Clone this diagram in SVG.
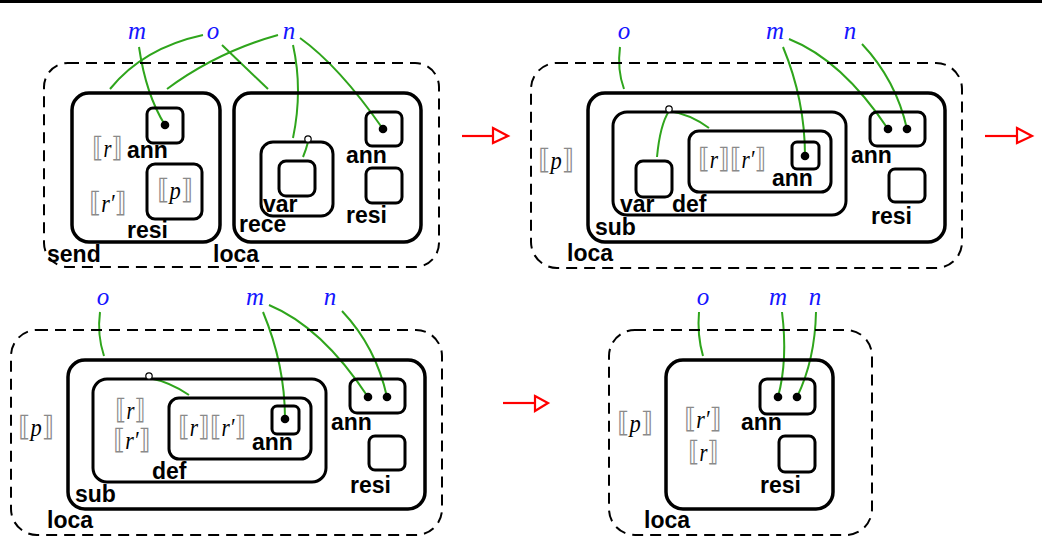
<svg xmlns="http://www.w3.org/2000/svg" width="1042" height="545" viewBox="0 0 1042 545">
<style>
.dash{fill:none;stroke:#000;stroke-width:2;stroke-dasharray:11 7}
.box{fill:none;stroke:#000;stroke-width:3.5}
.sbox{fill:none;stroke:#000;stroke-width:3}
.lbl{font-family:"Liberation Sans",Arial,sans-serif;font-weight:bold;font-size:23px;fill:#000}
.nm{font-family:"Liberation Serif","Times New Roman",serif;font-style:italic;font-size:25px;fill:#1515ff}
.br{font-family:"Liberation Serif","DejaVu Serif",serif;font-size:25px;fill:#000}
.bk{font-family:"DejaVu Sans",sans-serif;font-style:normal;fill:#8a8a8a;font-size:28px}
.it{font-style:italic}
.w{fill:none;stroke:#2fa51c;stroke-width:2}
.dot{fill:#000}
.port{fill:#fff;stroke:#000;stroke-width:1.2}
.arr{fill:none;stroke:#f00;stroke-width:2.2}
.arrh{fill:#fff;stroke:#f00;stroke-width:2.2}
</style>
<rect x="0" y="0" width="1042" height="3" fill="#000"/>

<!-- Connectors -->
<g id="connectors">
<path class="w" d="M139,47 Q146,95 165,125"/>
<path class="w" d="M203,35 Q143,48 110,89"/>
<path class="w" d="M222,45 Q246,68 268,89"/>
<path class="w" d="M278,35 Q217,52 167,89"/>
<path class="w" d="M293,45 Q303,90 293,138"/>
<path class="w" d="M300,38 Q339,66 383,129"/>
<path class="w" d="M308,142 Q306,150 303,157"/>

<path class="w" d="M620,47 Q617,70 624,89"/>
<path class="w" d="M783,47 Q805,100 805,156"/>
<path class="w" d="M789,39 Q842,60 888,129"/>
<path class="w" d="M862,44 Q896,80 907,129"/>
<path class="w" d="M669,111 Q660,125 657,157"/>
<path class="w" d="M669,111 Q690,114 709,128"/>

<path class="w" d="M100,312 Q97,335 104,356"/>
<path class="w" d="M263,312 Q285,365 285,419"/>
<path class="w" d="M269,305 Q322,327 368,397"/>
<path class="w" d="M342,311 Q376,347 387,397"/>
<path class="w" d="M149,378 Q170,382 189,395"/>

<path class="w" d="M699,312 Q697,335 703,356"/>
<path class="w" d="M782,312 Q788,360 778,397"/>
<path class="w" d="M816,312 Q815,360 797,397"/>

<path class="arr" d="M462,136 H493"/><path class="arrh" d="M493,128 L508,136 L493,143 Z"/>
<path class="arr" d="M985,136 H1017"/><path class="arrh" d="M1017,128 L1032,136 L1017,143 Z"/>
<path class="arr" d="M503,403 H535"/><path class="arrh" d="M535,396 L548,403 L535,411 Z"/>
</g>

<!-- Panel 1 -->
<g id="p1-loca-outer"><rect class="dash" x="44" y="63" width="395" height="204" rx="24"/><text class="lbl" x="213" y="262">loca</text></g>
<g id="p1-send"><rect class="box" x="72" y="93" width="148" height="149" rx="17"/><text class="lbl" x="47" y="262">send</text>
<text class="br" transform="translate(92,157) scale(0.82,1)"><tspan class="bk">⟦</tspan><tspan class="it">r</tspan><tspan class="bk">⟧</tspan></text>
<text class="br" transform="translate(89,212) scale(0.88,1)"><tspan class="bk">⟦</tspan><tspan class="it">r′</tspan><tspan class="bk">⟧</tspan></text></g>
<g id="p1-send-ann"><rect class="sbox" x="147" y="108" width="36" height="35" rx="6"/><circle class="dot" cx="165" cy="125" r="4.3"/><text class="lbl" x="127" y="158">ann</text></g>
<g id="p1-send-resi"><rect class="sbox" x="147" y="164" width="55" height="55" rx="8"/><text class="br" transform="translate(157,199) scale(0.9,1)"><tspan class="bk">⟦</tspan><tspan class="it">p</tspan><tspan class="bk">⟧</tspan></text><text class="lbl" x="127" y="238">resi</text></g>
<g id="p1-loca"><rect class="box" x="234" y="93" width="187" height="149" rx="17"/></g>
<g id="p1-rece"><rect class="sbox" x="261" y="142" width="72" height="74" rx="12"/><circle class="port" cx="308" cy="139" r="3.2"/><text class="lbl" x="239" y="232">rece</text></g>
<g id="p1-var"><rect class="sbox" x="279" y="161" width="36" height="35" rx="7"/><text class="lbl" x="263" y="212">var</text></g>
<g id="p1-loca-ann"><rect class="sbox" x="366" y="112" width="36" height="34" rx="6"/><circle class="dot" cx="383" cy="129" r="4.3"/><text class="lbl" x="346" y="163">ann</text></g>
<g id="p1-loca-resi"><rect class="sbox" x="366" y="168" width="36" height="35" rx="6"/><text class="lbl" x="346" y="223">resi</text></g>
<g id="p1-names"><text class="nm" x="137" y="39" text-anchor="middle">m</text><text class="nm" x="213" y="39" text-anchor="middle">o</text><text class="nm" x="289" y="39" text-anchor="middle">n</text></g>

<!-- Panel 2 -->
<g id="p2-loca"><rect class="dash" x="531" y="63" width="431" height="205" rx="26"/><text class="lbl" x="567" y="261">loca</text>
<text class="br" transform="translate(538,169) scale(0.9,1)"><tspan class="bk">⟦</tspan><tspan class="it">p</tspan><tspan class="bk">⟧</tspan></text></g>
<g id="p2-sub"><rect class="box" x="588" y="93" width="357" height="149" rx="17"/><text class="lbl" x="595" y="235">sub</text></g>
<g id="p2-def"><rect class="sbox" x="613" y="112" width="233" height="103" rx="14"/><circle class="port" cx="669" cy="109" r="3.2"/><text class="lbl" x="672" y="212">def</text></g>
<g id="p2-var"><rect class="sbox" x="636" y="161" width="36" height="36" rx="7"/><text class="lbl" x="620" y="212">var</text></g>
<g id="p2-inner"><rect class="sbox" x="689" y="131" width="142" height="61" rx="10"/><text class="br" transform="translate(698,168) scale(0.85,1)"><tspan class="bk">⟦</tspan><tspan class="it">r</tspan><tspan class="bk">⟧⟦</tspan><tspan class="it">r′</tspan><tspan class="bk">⟧</tspan></text></g>
<g id="p2-inner-ann"><rect class="sbox" x="792" y="142" width="27" height="27" rx="5"/><circle class="dot" cx="805" cy="156" r="4.3"/><text class="lbl" x="772" y="186">ann</text></g>
<g id="p2-ann"><rect class="sbox" x="870" y="112" width="55" height="34" rx="7"/><circle class="dot" cx="888" cy="129" r="4.3"/><circle class="dot" cx="907" cy="129" r="4.3"/><text class="lbl" x="851" y="163">ann</text></g>
<g id="p2-resi"><rect class="sbox" x="889" y="169" width="36" height="33" rx="6"/><text class="lbl" x="871" y="224">resi</text></g>
<g id="p2-names"><text class="nm" x="624" y="39" text-anchor="middle">o</text><text class="nm" x="775" y="39" text-anchor="middle">m</text><text class="nm" x="850" y="39" text-anchor="middle">n</text></g>

<!-- Panel 3 -->
<g id="p3-loca"><rect class="dash" x="11" y="330" width="431" height="205" rx="26"/><text class="lbl" x="47" y="528">loca</text>
<text class="br" transform="translate(18,436) scale(0.9,1)"><tspan class="bk">⟦</tspan><tspan class="it">p</tspan><tspan class="bk">⟧</tspan></text></g>
<g id="p3-sub"><rect class="box" x="68" y="360" width="357" height="149" rx="17"/><text class="lbl" x="75" y="502">sub</text></g>
<g id="p3-def"><rect class="sbox" x="93" y="379" width="233" height="103" rx="14"/><circle class="port" cx="149" cy="376" r="3.2"/><text class="lbl" x="152" y="479">def</text>
<text class="br" transform="translate(115,419) scale(0.82,1)"><tspan class="bk">⟦</tspan><tspan class="it">r</tspan><tspan class="bk">⟧</tspan></text>
<text class="br" transform="translate(113,449) scale(0.88,1)"><tspan class="bk">⟦</tspan><tspan class="it">r′</tspan><tspan class="bk">⟧</tspan></text></g>
<g id="p3-inner"><rect class="sbox" x="169" y="398" width="142" height="61" rx="10"/><text class="br" transform="translate(178,436) scale(0.85,1)"><tspan class="bk">⟦</tspan><tspan class="it">r</tspan><tspan class="bk">⟧⟦</tspan><tspan class="it">r′</tspan><tspan class="bk">⟧</tspan></text></g>
<g id="p3-inner-ann"><rect class="sbox" x="272" y="406" width="27" height="28" rx="5"/><circle class="dot" cx="285" cy="419" r="4.3"/><text class="lbl" x="252" y="450">ann</text></g>
<g id="p3-ann"><rect class="sbox" x="350" y="379" width="55" height="34" rx="7"/><circle class="dot" cx="368" cy="397" r="4.3"/><circle class="dot" cx="387" cy="397" r="4.3"/><text class="lbl" x="331" y="430">ann</text></g>
<g id="p3-resi"><rect class="sbox" x="369" y="436" width="36" height="34" rx="6"/><text class="lbl" x="350" y="493">resi</text></g>
<g id="p3-names"><text class="nm" x="103" y="305" text-anchor="middle">o</text><text class="nm" x="255" y="305" text-anchor="middle">m</text><text class="nm" x="330" y="305" text-anchor="middle">n</text></g>

<!-- Panel 4 -->
<g id="p4-outer"><rect class="dash" x="609" y="330" width="263" height="205" rx="26"/><text class="br" transform="translate(617,432) scale(0.9,1)"><tspan class="bk">⟦</tspan><tspan class="it">p</tspan><tspan class="bk">⟧</tspan></text></g>
<g id="p4-loca"><rect class="box" x="666" y="360" width="167" height="149" rx="17"/><text class="lbl" x="644" y="528">loca</text>
<text class="br" transform="translate(684,428) scale(0.88,1)"><tspan class="bk">⟦</tspan><tspan class="it">r′</tspan><tspan class="bk">⟧</tspan></text>
<text class="br" transform="translate(688,461) scale(0.82,1)"><tspan class="bk">⟦</tspan><tspan class="it">r</tspan><tspan class="bk">⟧</tspan></text></g>
<g id="p4-ann"><rect class="sbox" x="760" y="379" width="55" height="35" rx="7"/><circle class="dot" cx="778" cy="397" r="4.3"/><circle class="dot" cx="797" cy="397" r="4.3"/><text class="lbl" x="741" y="430">ann</text></g>
<g id="p4-resi"><rect class="sbox" x="779" y="436" width="36" height="36" rx="6"/><text class="lbl" x="760" y="493">resi</text></g>
<g id="p4-names"><text class="nm" x="703" y="305" text-anchor="middle">o</text><text class="nm" x="778" y="305" text-anchor="middle">m</text><text class="nm" x="815" y="305" text-anchor="middle">n</text></g>
</svg>
